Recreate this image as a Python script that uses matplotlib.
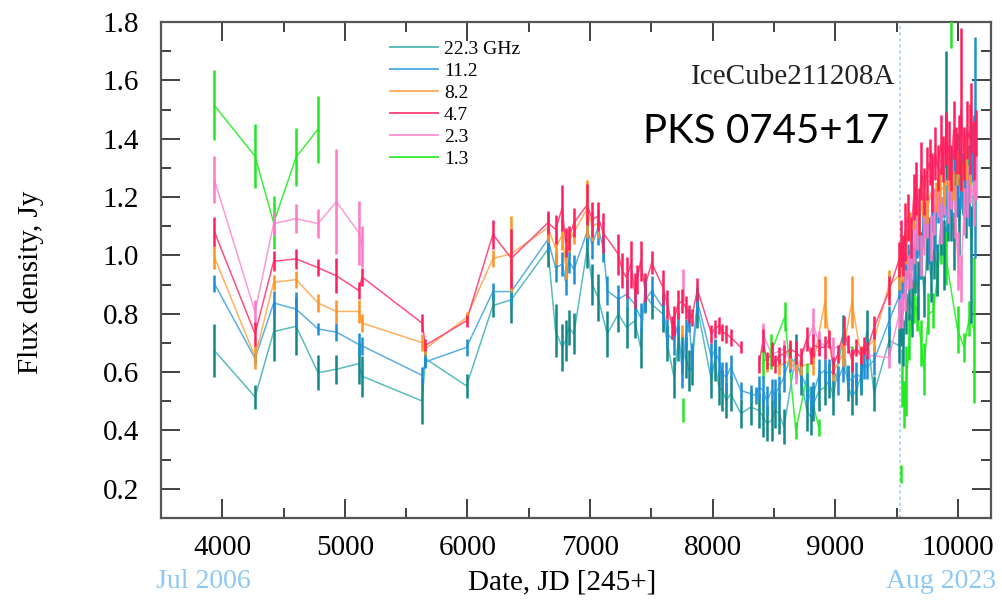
import numpy as np
import matplotlib
matplotlib.use('Agg')
import matplotlib.pyplot as plt
from matplotlib.ticker import MultipleLocator, FormatStrFormatter
from matplotlib.lines import Line2D

# observations: (JD-2450000, flux density Jy, error), split into segments where the curve is not joined
teal_22 = [[
    (3935, 0.674, 0.09), (4267, 0.515, 0.04), (4419, 0.739, 0.10), (4602, 0.757, 0.10),
    (4781, 0.598, 0.06), (4931, 0.610, 0.05), (5113, 0.629, 0.07), (5140, 0.586, 0.07),
    (5630, 0.501, 0.08), (5657, 0.646, 0.03), (5992, 0.553, 0.04), (6207, 0.828, 0.04),
    (6357, 0.848, 0.08), (6656, 1.021, 0.06), (6718, 0.742, 0.09), (6773, 0.685, 0.08),
    (6800, 0.708, 0.07), (6827, 0.753, 0.06), (6868, 0.731, 0.07), (6977, 1.026, 0.07),
    (7018, 0.901, 0.07), (7064, 0.856, 0.08), (7140, 0.731, 0.08), (7230, 0.799, 0.06),
    (7298, 0.753, 0.07), (7363, 0.776, 0.06), (7412, 0.685, 0.07), (7445, 0.867, 0.06),
    (7502, 0.833, 0.05), (7594, 0.799, 0.06), (7630, 0.697, 0.06), (7684, 0.583, 0.07),
    (7717, 0.697, 0.06), (7753, 0.662, 0.07), (7780, 0.651, 0.07), (7807, 0.605, 0.07),
    (7830, 0.617, 0.06), (7875, 0.821, 0.07), (7989, 0.571, 0.06), (8016, 0.640, 0.07),
    (8051, 0.548, 0.06), (8079, 0.537, 0.07), (8111, 0.503, 0.06), (8147, 0.526, 0.06),
    (8229, 0.458, 0.05), (8310, 0.480, 0.06), (8378, 0.469, 0.06), (8411, 0.446, 0.07),
    (8441, 0.424, 0.06), (8482, 0.435, 0.07), (8510, 0.469, 0.06), (8540, 0.458, 0.07),
    (8582, 0.412, 0.06), (8678, 0.662, 0.07), (8719, 0.583, 0.06), (8767, 0.469, 0.07),
    (8800, 0.446, 0.06), (8822, 0.492, 0.06), (8869, 0.537, 0.07), (8914, 0.548, 0.06),
    (8950, 0.571, 0.06), (8984, 0.514, 0.06), (9063, 0.725, 0.07), (9100, 0.560, 0.06),
    (9135, 0.514, 0.06), (9170, 0.537, 0.05), (9208, 0.583, 0.06), (9257, 0.742, 0.07),
    (9316, 0.526, 0.06), (9439, 0.708, 0.05), (9521, 0.691, 0.06),
    (9535, 0.750, 0.06), (9555, 0.700, 0.08), (9575, 0.800, 0.07), (9600, 0.860, 0.08),
    (9625, 0.820, 0.10), (9650, 0.950, 0.08), (9675, 0.880, 0.10), (9700, 1.000, 0.08),
    (9725, 0.860, 0.07), (9750, 1.040, 0.09), (9780, 0.920, 0.08), (9805, 1.020, 0.10),
    (9830, 0.950, 0.09), (9860, 1.100, 0.10), (9885, 1.000, 0.12), (9902, 1.480, 0.22),
    (9920, 1.150, 0.10), (9943, 1.200, 0.15), (9965, 1.050, 0.10), (9990, 1.300, 0.12),
    (10010, 1.100, 0.10), (10040, 1.250, 0.10), (10065, 1.180, 0.12), (10090, 1.280, 0.10),
    (10110, 0.970, 0.20), (10133, 1.380, 0.10),
]]

blue_11 = [[
    (3935, 0.904, 0.03), (4267, 0.647, 0.02), (4419, 0.837, 0.04), (4602, 0.816, 0.06),
    (4781, 0.748, 0.02), (4931, 0.737, 0.03), (5113, 0.695, 0.04), (5140, 0.690, 0.03),
    (5630, 0.589, 0.03), (5657, 0.635, 0.02), (5992, 0.685, 0.03), (6207, 0.876, 0.03),
    (6357, 0.876, 0.05), (6656, 1.055, 0.04), (6718, 0.958, 0.05), (6773, 0.970, 0.04),
    (6800, 0.913, 0.05), (6827, 0.981, 0.04), (6868, 0.952, 0.05), (6977, 1.083, 0.05),
    (7018, 1.038, 0.05), (7064, 1.095, 0.06), (7108, 1.026, 0.05), (7140, 0.879, 0.05),
    (7230, 0.850, 0.05), (7298, 0.867, 0.05), (7363, 0.833, 0.05), (7412, 0.787, 0.05),
    (7445, 0.844, 0.04), (7502, 0.879, 0.05), (7594, 0.821, 0.05), (7630, 0.731, 0.05),
    (7684, 0.708, 0.05), (7717, 0.765, 0.04), (7753, 0.594, 0.05), (7780, 0.731, 0.05),
    (7807, 0.776, 0.04), (7830, 0.651, 0.05), (7875, 0.844, 0.04), (7989, 0.651, 0.05),
    (8016, 0.674, 0.04), (8051, 0.640, 0.05), (8079, 0.594, 0.04), (8111, 0.583, 0.05),
    (8147, 0.617, 0.04), (8229, 0.537, 0.03), (8310, 0.526, 0.03), (8351, 0.520, 0.03),
    (8378, 0.548, 0.04), (8411, 0.537, 0.05), (8441, 0.503, 0.05), (8482, 0.537, 0.04),
    (8510, 0.526, 0.05), (8540, 0.548, 0.04), (8582, 0.583, 0.05), (8631, 0.651, 0.05),
    (8678, 0.629, 0.05), (8719, 0.594, 0.04), (8767, 0.548, 0.05), (8800, 0.503, 0.05),
    (8822, 0.526, 0.04), (8869, 0.594, 0.05), (8914, 0.605, 0.04), (8950, 0.594, 0.05),
    (8984, 0.605, 0.04), (9020, 0.571, 0.05), (9063, 0.617, 0.05), (9100, 0.583, 0.04),
    (9135, 0.571, 0.05), (9170, 0.594, 0.04), (9208, 0.583, 0.05), (9235, 0.628, 0.05),
    (9257, 0.617, 0.04), (9316, 0.640, 0.05), (9439, 0.776, 0.05), (9521, 0.861, 0.06),
    (9540, 0.860, 0.06), (9565, 0.920, 0.07), (9590, 0.980, 0.06), (9615, 1.020, 0.07),
    (9640, 0.970, 0.06), (9665, 1.060, 0.07), (9690, 1.000, 0.08), (9715, 1.100, 0.07),
    (9740, 1.120, 0.06), (9765, 1.050, 0.08), (9790, 1.150, 0.07), (9815, 1.100, 0.08),
    (9840, 1.180, 0.07), (9865, 1.120, 0.08), (9890, 1.200, 0.07), (9915, 1.160, 0.08),
    (9940, 1.240, 0.10), (9965, 1.280, 0.08), (9990, 1.200, 0.07), (10015, 1.260, 0.10),
    (10040, 1.220, 0.08), (10065, 1.300, 0.09), (10090, 1.180, 0.08), (10115, 1.350, 0.10),
    (10140, 1.370, 0.38),
]]

orange_8 = [[
    (3935, 0.995, 0.04), (4267, 0.652, 0.04), (4419, 0.908, 0.025), (4602, 0.917, 0.03),
    (4781, 0.837, 0.03), (4931, 0.808, 0.04), (5113, 0.808, 0.04), (5140, 0.768, 0.03),
    (5630, 0.701, 0.03), (5657, 0.680, 0.02), (5992, 0.787, 0.02), (6207, 0.989, 0.03),
    (6357, 1.006, 0.13), (6656, 1.095, 0.05), (6718, 1.026, 0.06), (6773, 1.070, 0.05),
    (6800, 0.970, 0.05), (6827, 1.050, 0.04), (6868, 1.080, 0.04), (6977, 1.160, 0.10),
    (7018, 1.100, 0.05), (7064, 1.110, 0.05),
], [
    (7753, 0.742, 0.02),
], [
    (8441, 0.630, 0.03), (8540, 0.620, 0.03), (8631, 0.640, 0.03), (8678, 0.630, 0.03),
    (8719, 0.620, 0.03), (8822, 0.630, 0.04), (8914, 0.840, 0.09), (8984, 0.600, 0.03),
    (9059, 0.660, 0.04), (9135, 0.840, 0.09), (9208, 0.660, 0.03), (9316, 0.710, 0.04),
    (9439, 0.900, 0.05), (9521, 0.930, 0.05),
    (9540, 0.960, 0.05), (9575, 1.030, 0.06), (9610, 1.100, 0.05), (9645, 1.150, 0.06),
    (9680, 1.120, 0.05), (9715, 1.190, 0.06), (9750, 1.160, 0.05), (9785, 1.220, 0.06),
    (9820, 1.200, 0.05), (9855, 1.240, 0.06), (9890, 1.220, 0.05), (9925, 1.280, 0.06),
    (9960, 1.240, 0.05), (9995, 1.300, 0.06), (10030, 1.270, 0.05), (10065, 1.330, 0.07),
    (10100, 1.300, 0.06), (10135, 1.350, 0.07),
]]

red_4 = [[
    (3935, 1.082, 0.05), (4267, 0.731, 0.04), (4419, 0.980, 0.035), (4602, 0.988, 0.035),
    (4781, 0.958, 0.03), (4931, 0.930, 0.06), (5113, 0.880, 0.03), (5140, 0.926, 0.03),
    (5630, 0.768, 0.03), (5657, 0.692, 0.02), (5992, 0.776, 0.02), (6207, 1.072, 0.05),
    (6357, 0.990, 0.10), (6656, 1.112, 0.04), (6718, 1.089, 0.05), (6773, 1.163, 0.08),
    (6800, 1.043, 0.05), (6827, 1.060, 0.04), (6868, 1.112, 0.05), (6977, 1.174, 0.07),
    (7018, 1.123, 0.06), (7064, 1.134, 0.05), (7108, 1.077, 0.07), (7230, 1.004, 0.07),
    (7263, 0.947, 0.06), (7298, 0.924, 0.07), (7331, 0.970, 0.08), (7363, 0.879, 0.06),
    (7385, 0.918, 0.05), (7412, 0.981, 0.07), (7445, 0.890, 0.05), (7502, 0.975, 0.04),
    (7594, 0.890, 0.06), (7630, 0.833, 0.05), (7671, 0.753, 0.04), (7684, 0.776, 0.05),
    (7717, 0.833, 0.05), (7753, 0.844, 0.04), (7780, 0.821, 0.04), (7807, 0.799, 0.03),
    (7830, 0.787, 0.03), (7875, 0.884, 0.04), (7989, 0.731, 0.03), (8016, 0.748, 0.03),
    (8051, 0.759, 0.03), (8079, 0.736, 0.03), (8111, 0.731, 0.03), (8147, 0.719, 0.03),
    (8229, 0.685, 0.02),
], [
    (8378, 0.628, 0.03), (8411, 0.708, 0.04), (8441, 0.640, 0.03), (8482, 0.662, 0.04),
    (8510, 0.628, 0.03), (8540, 0.657, 0.03), (8582, 0.662, 0.03), (8631, 0.679, 0.03),
    (8678, 0.668, 0.04), (8719, 0.651, 0.03), (8767, 0.714, 0.04), (8800, 0.657, 0.03),
    (8822, 0.691, 0.04), (8869, 0.685, 0.03), (8914, 0.685, 0.04), (8950, 0.714, 0.03),
    (8984, 0.622, 0.03), (9020, 0.662, 0.03), (9072, 0.742, 0.05), (9100, 0.697, 0.03),
    (9135, 0.640, 0.04), (9170, 0.685, 0.03), (9208, 0.657, 0.03), (9235, 0.691, 0.03),
    (9257, 0.674, 0.03), (9316, 0.753, 0.04), (9439, 0.879, 0.05), (9521, 0.987, 0.06),
    (9535, 1.040, 0.08), (9550, 1.000, 0.07), (9570, 1.080, 0.10), (9590, 1.130, 0.08),
    (9615, 1.060, 0.07), (9640, 1.200, 0.08), (9660, 1.230, 0.09), (9685, 1.150, 0.08),
    (9700, 1.290, 0.10), (9725, 1.220, 0.08), (9745, 1.280, 0.09), (9770, 1.320, 0.08),
    (9790, 1.250, 0.10), (9815, 1.350, 0.09), (9835, 1.300, 0.08), (9860, 1.380, 0.10),
    (9880, 1.330, 0.08), (9900, 1.400, 0.09), (9925, 1.360, 0.10), (9945, 1.300, 0.08),
    (9965, 1.430, 0.10), (9985, 1.360, 0.08), (10010, 1.380, 0.10), (10025, 1.500, 0.28),
    (10050, 1.350, 0.09), (10075, 1.430, 0.10), (10095, 1.400, 0.12), (10110, 1.470, 0.12),
    (10130, 1.360, 0.10), (10150, 1.420, 0.08),
]]

pink_2 = [[
    (3935, 1.260, 0.08), (4267, 0.806, 0.04), (4419, 1.109, 0.04), (4602, 1.126, 0.05),
    (4781, 1.109, 0.05), (4931, 1.184, 0.18), (5113, 1.078, 0.11), (5140, 1.030, 0.07),
], [
    (7758, 0.900, 0.055),
], [
    (8411, 0.730, 0.04), (8482, 0.660, 0.04), (8582, 0.680, 0.03), (8678, 0.600, 0.04),
    (8822, 0.760, 0.06), (8869, 0.700, 0.04), (8984, 0.680, 0.04), (9072, 0.700, 0.05),
    (9208, 0.660, 0.03), (9439, 0.650, 0.035), (9521, 0.800, 0.05),
    (9540, 0.810, 0.06), (9565, 0.880, 0.07), (9590, 0.940, 0.06), (9615, 0.970, 0.08),
    (9645, 1.040, 0.07), (9670, 1.100, 0.08), (9700, 1.000, 0.07), (9725, 1.080, 0.08),
    (9750, 1.130, 0.07), (9780, 1.060, 0.08), (9805, 1.150, 0.08), (9835, 1.200, 0.07),
    (9860, 1.120, 0.08), (9890, 1.220, 0.08), (9920, 1.180, 0.07), (9945, 1.240, 0.08),
    (9975, 1.150, 0.09), (10000, 0.980, 0.10), (10024, 0.920, 0.08), (10050, 1.150, 0.08),
    (10075, 1.220, 0.09), (10100, 1.260, 0.08), (10130, 1.200, 0.10), (10150, 1.270, 0.08),
]]

green_1 = [[
    (3935, 1.514, 0.12), (4267, 1.340, 0.11), (4419, 1.112, 0.09), (4602, 1.337, 0.10),
    (4781, 1.433, 0.115),
], [
    (7758, 0.470, 0.04),
], [
    (8408, 0.630, 0.05), (8478, 0.670, 0.06), (8588, 0.790, 0.05), (8678, 0.400, 0.03),
    (8767, 0.580, 0.05), (8865, 0.410, 0.03),
], [
    (9135, 0.650, 0.04),
], [
    (9535, 0.250, 0.03),
], [
    (9545, 0.580, 0.10), (9560, 0.490, 0.08), (9580, 0.570, 0.12), (9605, 0.720, 0.08),
    (9640, 0.840, 0.07), (9670, 0.800, 0.06), (9700, 0.700, 0.08), (9722, 0.610, 0.09),
    (9760, 0.800, 0.07), (9800, 0.810, 0.06), (9830, 0.920, 0.06), (9865, 1.050, 0.08),
    (9900, 1.000, 0.10), (9997, 0.745, 0.08), (10050, 0.685, 0.05), (10092, 0.785, 0.06),
    (10133, 0.745, 0.25),
], [
    (9945, 1.760, 0.05),
]]

series = [
    (green_1, '#22e822', '#3cf03c', '1.3'),
    (teal_22, '#13868a', '#5bbcbc', '22.3 GHz'),
    (blue_11, '#1e8fd2', '#5ab0e6', '11.2'),
    (pink_2, '#ff78c8', '#ff9ad6', '2.3'),
    (orange_8, '#ff9320', '#ffb060', '8.2'),
    (red_4, '#ff1f5e', '#ff4f80', '4.7'),
]
legend_order = ['22.3 GHz', '11.2', '8.2', '4.7', '2.3', '1.3']

plt.rcParams['font.family'] = ['Liberation Serif', 'DejaVu Serif']

fig = plt.figure(figsize=(10.03, 6.03), dpi=100)
ax = fig.add_axes([161 / 1003, 1 - 518 / 603, 830 / 1003, 496 / 603])

handles = {}
for segs, ecol, lcol, name in series:
    for seg in segs:
        d = np.array(seg)
        ax.plot(d[:, 0], d[:, 1], color=lcol, lw=1.1, zorder=2)
        ax.errorbar(d[:, 0], d[:, 1], yerr=d[:, 2], fmt='none', ecolor=ecol,
                    elinewidth=1.8, capsize=0, zorder=3)
    handles[name] = Line2D([], [], color=lcol, lw=1.4)

ax.axvline(9525, color='#99ccf5', lw=1.1, ls=(0, (2, 2)), zorder=1)

ax.set_xlim(3500, 10270)
ax.set_ylim(0.1, 1.8)
ax.xaxis.set_major_locator(MultipleLocator(1000))
ax.xaxis.set_minor_locator(MultipleLocator(500))
ax.yaxis.set_major_locator(MultipleLocator(0.2))
ax.yaxis.set_minor_locator(MultipleLocator(0.1))
ax.yaxis.set_major_formatter(FormatStrFormatter('%.1f'))
ax.tick_params(which='both', direction='in', top=True, right=True, color='#333333', width=1.3)
ax.tick_params(which='major', length=14, labelsize=21, pad=12)
ax.tick_params(which='minor', length=7.5)
ax.tick_params(axis='y', which='major', pad=16)
for s in ax.spines.values():
    s.set_color('#555555')
    s.set_linewidth(1.6)

leg = ax.legend([handles[n] for n in legend_order], legend_order, loc='upper left',
                bbox_to_anchor=(0.266, 0.978), frameon=False, fontsize=14,
                handlelength=2.5, handletextpad=0.3, labelspacing=0.22, borderaxespad=0)

ax.text(0.885, 0.889, 'IceCube211208A', transform=ax.transAxes, ha='right', va='center',
        fontsize=21, color='#222222')
ax.text(0.877, 0.78, 'PKS 0745+17', transform=ax.transAxes, ha='right', va='center',
        fontsize=29, family=['Lato', 'DejaVu Sans'], color='black')

fig.text(0.031, 0.531, 'Flux density, Jy', rotation=90, ha='center', va='center', fontsize=21)
fig.text(0.56, 0.035, 'Date, JD [245+]', ha='center', va='center', fontsize=21)
fig.text(0.203, 0.035, 'Jul 2006', ha='center', va='center', fontsize=20, color='#8cc8f5')
fig.text(0.938, 0.035, 'Aug 2023', ha='center', va='center', fontsize=20, color='#8cc8f5')

fig.savefig('out.png', dpi=100)
